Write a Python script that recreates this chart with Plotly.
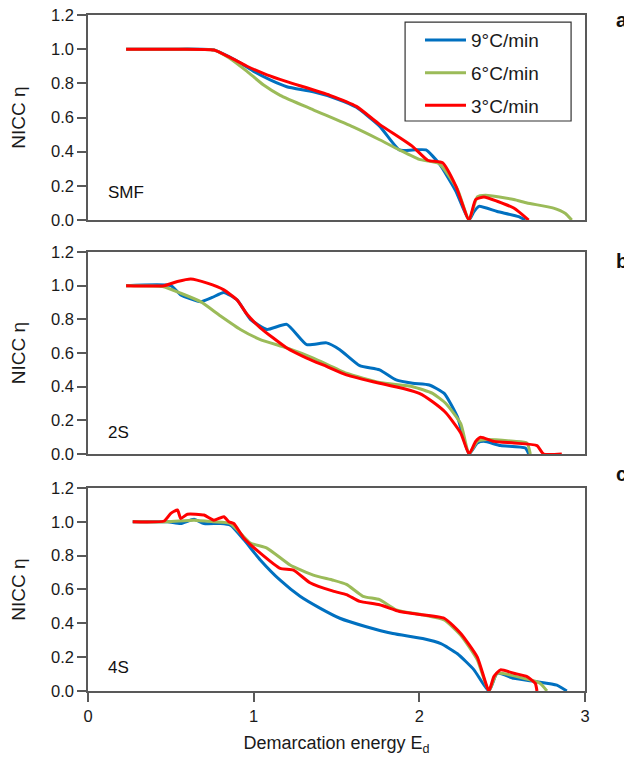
import plotly.graph_objects as go
from plotly.subplots import make_subplots

# ---------------- data ----------------
series_names = ["9°C/min", "6°C/min", "3°C/min"]
series_colors = ["#0070C0", "#9BBB59", "#FF0000"]
panel_labels = ["SMF", "2S", "4S"]
panel_letters = ["a", "b", "c"]

# Panel a (SMF)
a_blue_x = [0.23, 0.50, 0.76, 0.90, 1.00, 1.10, 1.20, 1.36, 1.50, 1.62, 1.76, 1.88, 1.96, 2.04, 2.12, 2.22, 2.30, 2.33, 2.36, 2.47, 2.60, 2.64]
a_blue_y = [1.00, 1.00, 0.995, 0.93, 0.87, 0.82, 0.78, 0.75, 0.71, 0.66, 0.55, 0.41, 0.41, 0.41, 0.33, 0.17, 0.00, 0.05, 0.08, 0.05, 0.02, 0.00]
a_green_x = [0.23, 0.50, 0.76, 0.85, 0.96, 1.06, 1.16, 1.36, 1.60, 1.76, 1.88, 2.00, 2.12, 2.23, 2.30, 2.35, 2.40, 2.57, 2.65, 2.81, 2.88, 2.92]
a_green_y = [1.00, 1.00, 0.995, 0.95, 0.87, 0.79, 0.73, 0.645, 0.545, 0.47, 0.41, 0.355, 0.33, 0.18, 0.00, 0.135, 0.145, 0.12, 0.10, 0.07, 0.04, 0.00]
a_red_x = [0.23, 0.50, 0.76, 0.86, 0.96, 1.08, 1.20, 1.46, 1.62, 1.76, 1.96, 2.05, 2.14, 2.22, 2.30, 2.34, 2.39, 2.47, 2.57, 2.66]
a_red_y = [1.00, 1.00, 0.995, 0.95, 0.90, 0.85, 0.81, 0.73, 0.665, 0.56, 0.43, 0.35, 0.335, 0.20, 0.00, 0.12, 0.135, 0.11, 0.07, 0.00]

# Panel b (2S)
b_blue_x = [0.23, 0.50, 0.56, 0.68, 0.75, 0.82, 0.90, 0.98, 1.08, 1.20, 1.32, 1.44, 1.52, 1.64, 1.76, 1.86, 1.96, 2.06, 2.15, 2.23, 2.30, 2.35, 2.39, 2.49, 2.64, 2.66]
b_blue_y = [1.00, 1.00, 0.945, 0.905, 0.93, 0.96, 0.915, 0.80, 0.74, 0.77, 0.65, 0.66, 0.62, 0.525, 0.50, 0.44, 0.42, 0.41, 0.36, 0.22, 0.00, 0.065, 0.075, 0.05, 0.035, 0.00]
b_green_x = [0.23, 0.45, 0.56, 0.68, 0.80, 0.92, 1.04, 1.20, 1.36, 1.56, 1.76, 1.96, 2.08, 2.16, 2.25, 2.30, 2.35, 2.39, 2.57, 2.65, 2.67]
b_green_y = [1.00, 0.995, 0.955, 0.905, 0.82, 0.74, 0.68, 0.63, 0.57, 0.48, 0.425, 0.40, 0.36, 0.30, 0.18, 0.00, 0.075, 0.085, 0.075, 0.065, 0.00]
b_red_x = [0.23, 0.46, 0.54, 0.62, 0.72, 0.82, 0.90, 0.96, 1.04, 1.20, 1.32, 1.44, 1.56, 1.76, 1.92, 2.00, 2.08, 2.16, 2.25, 2.30, 2.34, 2.37, 2.45, 2.57, 2.71, 2.75, 2.86]
b_red_y = [1.00, 1.00, 1.025, 1.04, 1.015, 0.975, 0.915, 0.83, 0.75, 0.63, 0.57, 0.52, 0.47, 0.42, 0.385, 0.36, 0.31, 0.245, 0.125, 0.00, 0.075, 0.10, 0.075, 0.065, 0.05, 0.00, 0.00]

# Panel c (4S)
c_blue_x = [0.27, 0.48, 0.56, 0.64, 0.70, 0.80, 0.86, 0.94, 1.04, 1.16, 1.28, 1.40, 1.52, 1.68, 1.84, 2.02, 2.13, 2.23, 2.33, 2.42, 2.47, 2.57, 2.71, 2.83, 2.89]
c_blue_y = [1.00, 1.00, 0.99, 1.015, 0.99, 0.99, 0.98, 0.895, 0.775, 0.655, 0.56, 0.49, 0.43, 0.38, 0.34, 0.31, 0.28, 0.22, 0.125, 0.00, 0.105, 0.075, 0.055, 0.035, 0.00]
c_green_x = [0.27, 0.48, 0.64, 0.76, 0.86, 0.98, 1.08, 1.22, 1.36, 1.48, 1.56, 1.66, 1.76, 1.86, 2.02, 2.15, 2.25, 2.35, 2.42, 2.47, 2.63, 2.73, 2.77]
c_green_y = [1.00, 1.00, 1.01, 1.00, 0.99, 0.875, 0.845, 0.745, 0.685, 0.655, 0.63, 0.56, 0.54, 0.48, 0.45, 0.42, 0.33, 0.185, 0.00, 0.105, 0.075, 0.045, 0.00]
c_red_x = [0.27, 0.46, 0.50, 0.54, 0.56, 0.60, 0.70, 0.76, 0.82, 0.85, 0.88, 0.94, 1.04, 1.16, 1.24, 1.34, 1.48, 1.56, 1.64, 1.76, 1.88, 1.98, 2.15, 2.25, 2.35, 2.42, 2.45, 2.49, 2.57, 2.65, 2.70, 2.71]
c_red_y = [1.00, 1.005, 1.05, 1.07, 1.02, 1.045, 1.04, 1.01, 1.03, 1.00, 0.99, 0.905, 0.815, 0.725, 0.715, 0.64, 0.59, 0.57, 0.53, 0.51, 0.47, 0.455, 0.43, 0.34, 0.20, 0.00, 0.085, 0.125, 0.105, 0.085, 0.045, 0.00]

panels = [
    [(a_blue_x, a_blue_y), (a_green_x, a_green_y), (a_red_x, a_red_y)],
    [(b_blue_x, b_blue_y), (b_green_x, b_green_y), (b_red_x, b_red_y)],
    [(c_blue_x, c_blue_y), (c_green_x, c_green_y), (c_red_x, c_red_y)],
]

y_ticks = [0.0, 0.2, 0.4, 0.6, 0.8, 1.0, 1.2]
x_ticks = [0, 1, 2, 3]

FONT = "Liberation Sans, Arial, sans-serif"
AXIS_COLOR = "#595959"
TXT = "#1a1a1a"

fig = make_subplots(rows=3, cols=1, shared_xaxes=True, vertical_spacing=0.05)

for r, panel in enumerate(panels, start=1):
    for i, (xs, ys) in enumerate(panel):
        fig.add_trace(go.Scatter(
            x=xs, y=ys, mode="lines", name=series_names[i],
            line=dict(color=series_colors[i], width=3, shape="spline", smoothing=0.5),
            showlegend=(r == 1), legendgroup=series_names[i]), row=r, col=1)

# domains (paper fractions)
domains = [[0.6967, 1.0], [0.3506, 0.6494], [0.0, 0.3003]]
for r in range(1, 4):
    yk = "yaxis" if r == 1 else f"yaxis{r}"
    xk = "xaxis" if r == 1 else f"xaxis{r}"
    fig.layout[yk].update(
        domain=domains[r - 1], range=[0, 1.2], tickvals=y_ticks,
        ticktext=[f"{v:.1f}" for v in y_ticks],
        ticks="outside", ticklen=9, tickcolor=AXIS_COLOR, tickwidth=1.5,
        showline=True, linecolor=AXIS_COLOR, linewidth=1.5, mirror=True,
        showgrid=False, zeroline=False, automargin=False,
        ticklabeloverflow="allow",
        tickfont=dict(family=FONT, size=16.5, color=TXT),
        title=dict(text="NICC η", font=dict(family=FONT, size=19, color=TXT), standoff=20))
    fig.layout[xk].update(
        range=[0, 3], tickvals=x_ticks,
        showline=True, linecolor=AXIS_COLOR, linewidth=1.5, mirror=True,
        showgrid=False, zeroline=False, automargin=False,
        ticklabeloverflow="allow",
        ticks="outside" if r == 3 else "", ticklen=9, tickcolor=AXIS_COLOR, tickwidth=1.5,
        showticklabels=(r == 3),
        tickfont=dict(family=FONT, size=16.5, color=TXT))

fig.layout.xaxis3.title = dict(text="Demarcation energy E<sub>d</sub>",
                               font=dict(family=FONT, size=18, color=TXT), standoff=13)

# panel annotations
letter_y = [0.9926, 0.636, 0.321]
label_y = [0.7375, 0.383, 0.0355]
for k in range(3):
    fig.add_annotation(x=1.074, y=letter_y[k], xref="paper", yref="paper",
                       text=f"<b>{panel_letters[k]}</b>", showarrow=False,
                       xanchor="center", yanchor="middle",
                       font=dict(family=FONT, size=20, color="#111"))
    fig.add_annotation(x=0.036, y=label_y[k], xref="paper", yref="paper",
                       text=panel_labels[k], showarrow=False,
                       xanchor="left", yanchor="middle",
                       font=dict(family=FONT, size=17, color="#111"))

# legend frame
fig.add_shape(type="rect", xref="paper", yref="paper",
              x0=0.638, x1=0.972, y0=0.8432, y1=0.9896,
              line=dict(color="#333", width=1.2), fillcolor="rgba(0,0,0,0)", layer="above")

fig.update_layout(
    width=632, height=757,
    margin=dict(l=80, r=55, t=7, b=74),
    plot_bgcolor="white", paper_bgcolor="white",
    legend=dict(x=0.668, y=0.991, xanchor="left", yanchor="top",
                borderwidth=0, bgcolor="rgba(0,0,0,0)",
                font=dict(family=FONT, size=19, color=TXT),
                tracegroupgap=5, itemwidth=41),
)

fig.write_html("out.html")
